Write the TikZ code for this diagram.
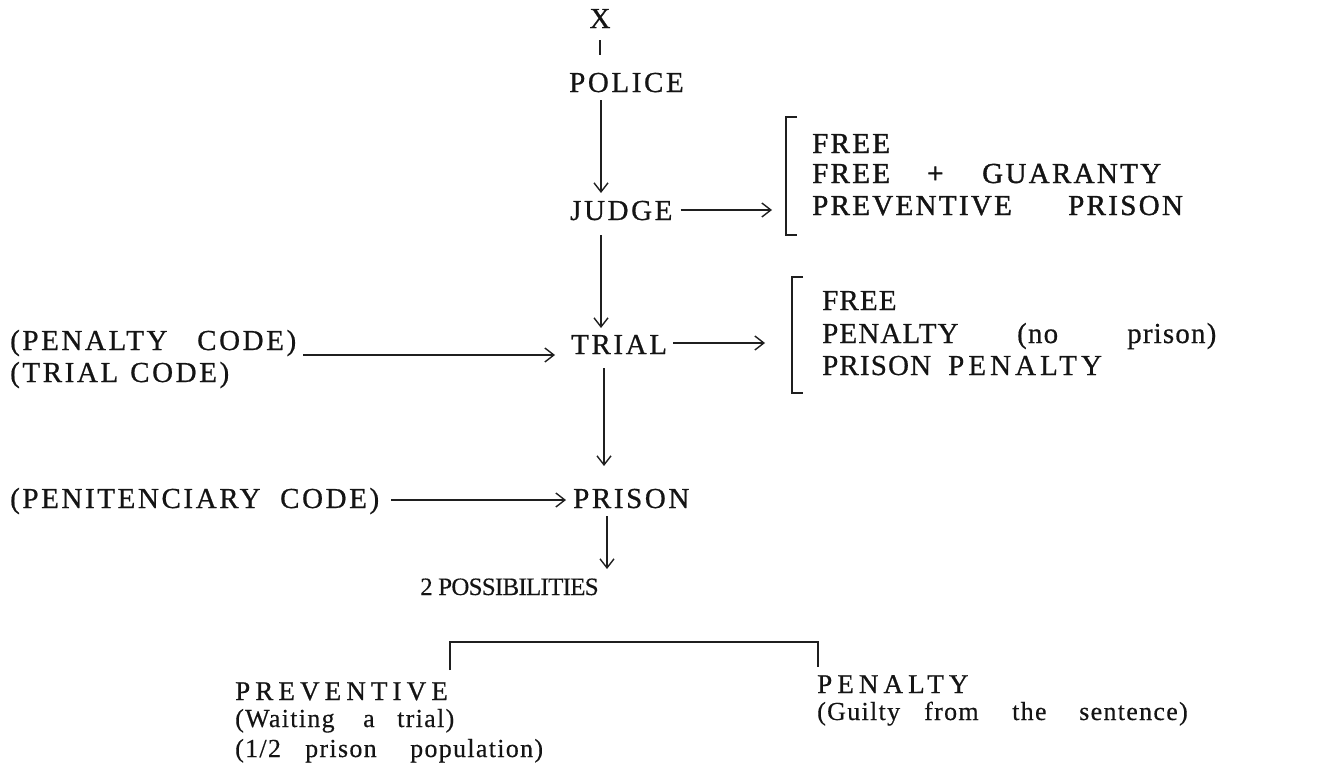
\documentclass[tikz,border=0pt]{standalone}
\usepackage{fontspec}
\setmainfont{Liberation Serif}
\usetikzlibrary{arrows.meta}
\newcommand\wat[2]{\makebox[0pt][l]{\hspace*{#1}#2}}
\newcommand\wline[2]{\makebox[#1][l]{#2}}
\begin{document}
\begin{tikzpicture}[x=1pt,y=-1pt,
  txt/.style={inner sep=0pt, anchor=base west, text=black!92},
  big/.style={txt, font=\fontsize{29}{31}\selectfont\addfontfeature{LetterSpace=9,FakeBold=0.7}},
  mid/.style={txt, font=\fontsize{29}{31}\selectfont\addfontfeature{LetterSpace=8,FakeBold=1.3}},
  opt/.style={txt, font=\fontsize{29}{31}\selectfont\addfontfeature{LetterSpace=4,FakeBold=0.6}},
  low/.style={txt, font=\fontsize{27}{29}\selectfont\addfontfeature{LetterSpace=19,FakeBold=0.8}},
  sml/.style={txt, font=\fontsize{26}{28}\selectfont\addfontfeature{LetterSpace=5,FakeBold=0.4}},
  poss/.style={txt, font=\fontsize{25}{27}\selectfont\addfontfeature{LetterSpace=-3,FakeBold=0.3}},
  conn/.style={line width=1.4pt, black!88},
  arr/.style={conn, -{Straight Barb[length=9pt,width=14pt,line width=1.4pt]}},
]
\useasboundingbox (0,0) rectangle (1332,771);

% main column
\node[big, anchor=base] (x) at (600,28) {X};
\node[big] (police) at (569,92) {POLICE};
\node[big] (judge) at (570,220) {JUDGE};
\node[big] (trial) at (571,354) {TRIAL};
\node[big] (prison) at (573,508) {PRISON};
\node[poss] (poss) at (420,595) {2 POSSIBILITIES};

% left codes
\node[big] (pcode) at (10,350) {\wline{295pt}{\wat{0pt}{(PENALTY}\wat{187pt}{CODE)}}};
\node[big] (tcode) at (10,382) {\wline{210pt}{\wat{0pt}{(TRIAL}\wat{120pt}{CODE)}}};
\node[big] (pencode) at (10,508) {\wline{380pt}{\wat{0pt}{(PENITENCIARY}\wat{270pt}{CODE)}}};

% judge options
\node[mid] (j1) at (812,153) {FREE};
\node[mid] (j2) at (812,183) {\wline{335pt}{\wat{0pt}{FREE}\wat{115pt}{+}\wat{170pt}{GUARANTY}}};
\node[mid] (j3) at (812,215) {\wline{378pt}{\wat{0pt}{PREVENTIVE}\wat{256pt}{PRISON}}};
\draw[conn] (797,117) -- (786,117) -- (786,235) -- (797,235);

% trial options
\node[opt] (t1) at (822,310) {FREE};
\node[opt] (t2) at (822,343) {\wline{405pt}{\wat{0pt}{PENALTY}\wat{195pt}{(no}\wat{305pt}{prison)}}};
\node[opt] (t3) at (822,375) {\wline{288pt}{\wat{0pt}{PRISON}\wat{126pt}{\addfontfeature{LetterSpace=14}PENALTY}}};
\draw[conn] (803,277) -- (792,277) -- (792,393) -- (803,393);

% bottom
\node[low] (prev) at (235,700) {PREVENTIVE};
\node[sml] (wait) at (235,727) {\wline{238pt}{\wat{0pt}{(Waiting}\wat{128pt}{a}\wat{162pt}{trial)}}};
\node[sml] (half) at (235,757) {\wline{352pt}{\wat{0pt}{(1/2}\wat{70pt}{prison}\wat{175pt}{population)}}};
\node[low] (pen) at (817,693) {PENALTY};
\node[sml] (guilty) at (817,720) {\wline{393pt}{\wat{0pt}{(Guilty}\wat{107pt}{from}\wat{195pt}{the}\wat{262pt}{sentence)}}};

% connectors
\draw[conn] ([yshift=-12pt]x.base) -- ([yshift=-27pt]x.base);
\draw[arr] ([xshift=32pt,yshift=-8pt]police.base west) -- ([xshift=32pt,yshift=27pt]police.base west |- judge.base west);
\draw[arr] ([xshift=8pt,yshift=10pt]judge.base east) -- ([xshift=-40pt,yshift=10pt]judge.base east -| j1.west);
\draw[arr] ([xshift=31pt,yshift=-15pt]judge.base west) -- ([xshift=30pt,yshift=26pt]trial.base west);
\draw[arr] ([xshift=-2pt,yshift=-5pt]pcode.base east) -- ([xshift=-16pt,yshift=-1pt]trial.base west);
\draw[arr] ([xshift=6pt,yshift=11pt]trial.base east) -- ([xshift=-57pt,yshift=11pt]trial.base east -| t1.west);
\draw[arr] ([xshift=33pt,yshift=-14pt]trial.base west) -- ([xshift=33pt,yshift=42pt]trial.base west |- prison.base west);
\draw[arr] ([xshift=1pt,yshift=8pt]pencode.base east) -- ([xshift=-7pt,yshift=8pt]prison.base west);
\draw[arr] ([xshift=34pt,yshift=-8pt]prison.base west) -- ([xshift=34pt,yshift=26pt]prison.base west |- poss.base west);
\draw[conn] ([xshift=2pt,yshift=30pt]prev.base east) |- ([xshift=1pt,yshift=51pt]pen.base west) -- ([xshift=1pt,yshift=26pt]pen.base west);
\end{tikzpicture}
\end{document}
